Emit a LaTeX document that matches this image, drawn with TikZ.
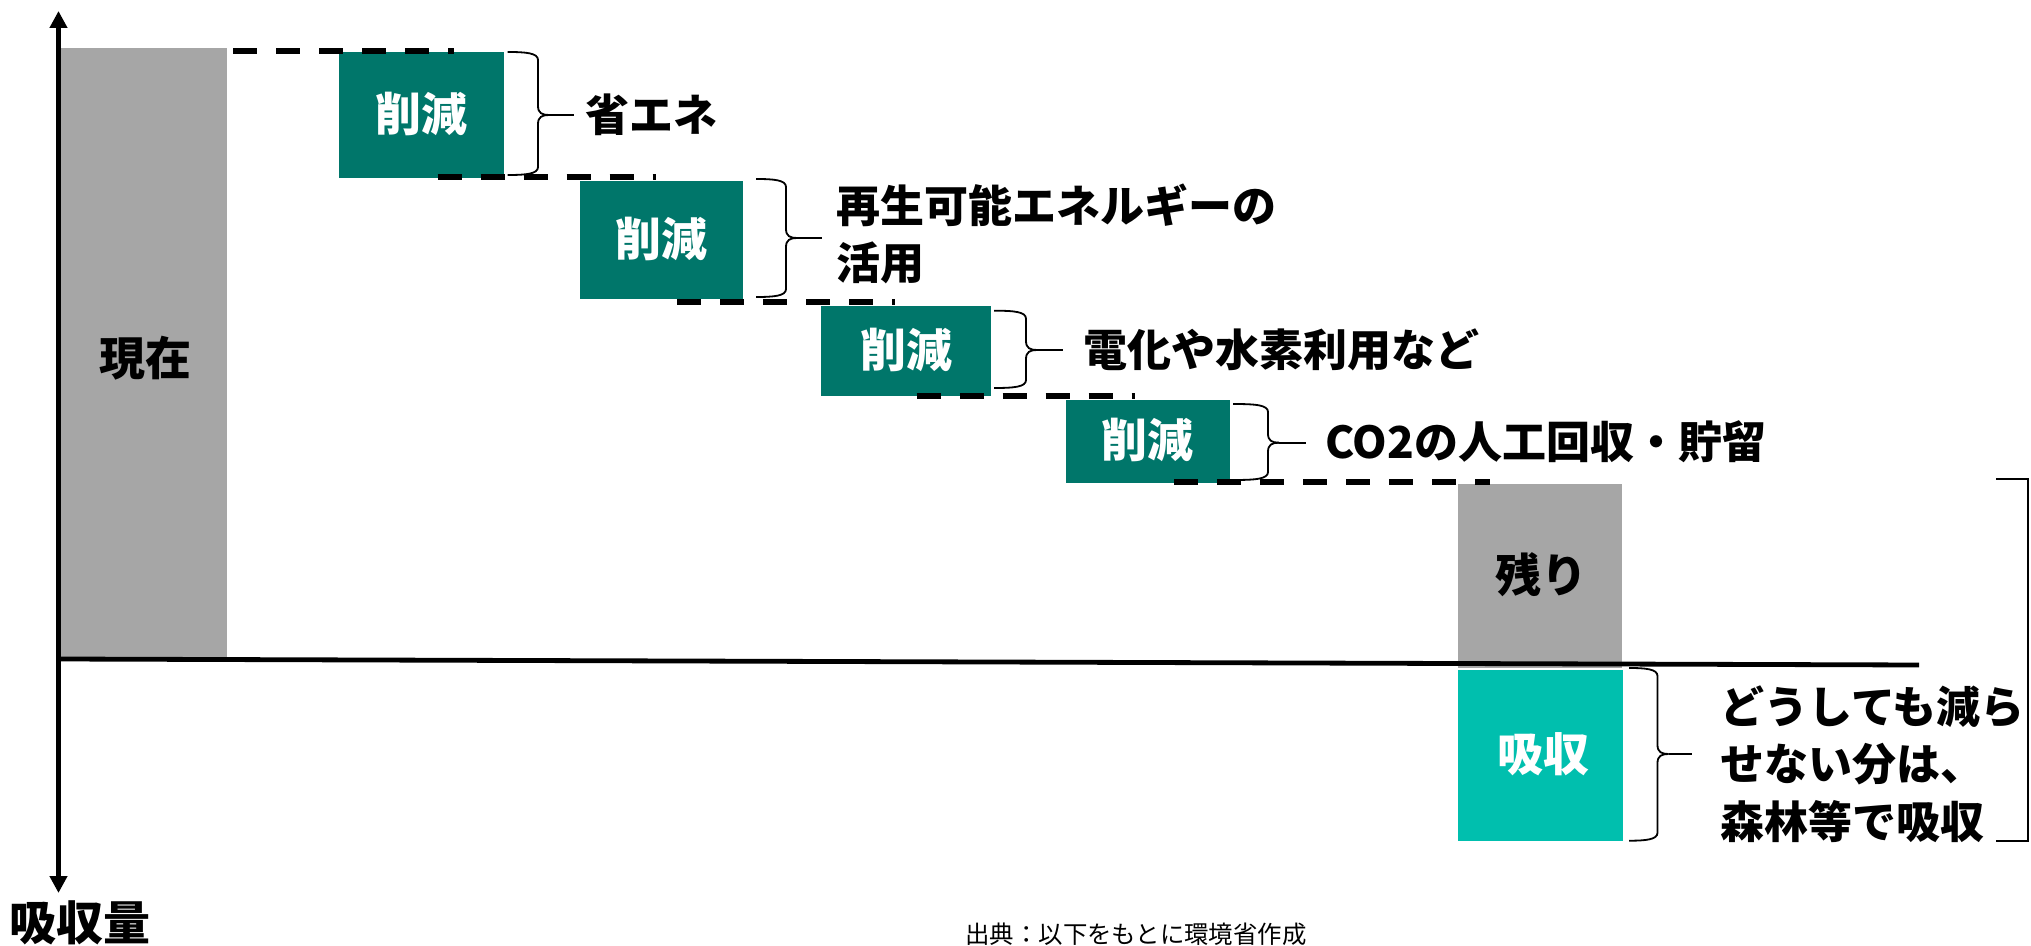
\documentclass[tikz,border=0pt]{standalone}
\usepackage{fontspec}
\setmainfont{Noto Sans CJK JP}
\usetikzlibrary{arrows.meta,fit,calc}
\definecolor{gbar}{RGB}{166,166,166}
\definecolor{dgreen}{RGB}{0,118,106}
\definecolor{lteal}{RGB}{0,191,174}
\newcommand{\bracedraw}[6]{% xl, xb, xt, top, bot, mid
  \draw[brc] (#1,#4) .. controls (#2-12,#4) and (#2,#4+1) .. (#2,#4+8) -- (#2,#6-9) .. controls (#2,#6-2) and (#2+4,#6) .. (#2+11,#6);
  \draw[brc] (#1,#5) .. controls (#2-12,#5) and (#2,#5-1) .. (#2,#5-8) -- (#2,#6+9) .. controls (#2,#6+2) and (#2+4,#6) .. (#2+11,#6);
}
\begin{document}
\begin{tikzpicture}[x=0.5pt,y=-0.5pt,
  boxs/.style={inner sep=0pt, outer sep=0pt, draw=none},
  gbox/.style={boxs, fill=dgreen},
  nbox/.style={boxs, fill=gbar},
  tbox/.style={boxs, fill=lteal},
  btxt/.style={inner sep=0pt, anchor=center, yshift=-4.5pt, text height=0.83em, text depth=0.07em, font=\bfseries\fontsize{23}{27}\selectfont},
  lbl/.style={inner sep=0pt, anchor=west, align=left, font=\bfseries\fontsize{22}{28.75}\selectfont},
  brc/.style={line width=0.9pt},
  dashln/.style={line width=2.8pt, dash pattern=on 12pt off 9.5pt},
  axisln/.style={line width=2.4pt},
  tipar/.style={-{Triangle[width=8.5pt,length=8.5pt]}},
]
\useasboundingbox (0,0) rectangle (2031,946);

% bars and boxes
\node[nbox, fit={(61,48) (227,657)}] (now) {};
\node[gbox, fit={(339,51.7) (503.6,177.7)}] (b1) {};
\node[gbox, fit={(579.7,181) (743,299)}] (b2) {};
\node[gbox, fit={(821,306) (991,395.7)}] (b3) {};
\node[gbox, fit={(1065.7,400) (1230,482.7)}] (b4) {};
\node[nbox, fit={(1458,484) (1622,668)}] (rest) {};
\node[tbox, fit={(1458,670) (1622.5,840.7)}] (abs) {};

\node[btxt] (nowt) at (145,359) {現在};
\node[btxt, text=white] (b1t) at (b1) {削減};
\node[btxt, text=white] (b2t) at (b2) {削減};
\node[btxt, text=white] (b3t) at (b3) {削減};
\node[btxt, text=white] (b4t) at (b4) {削減};
\node[btxt] (restt) at (1541,576) {残り};

% axes
\coordinate (ytop) at (58.5,11);
\coordinate (ybot) at (58.5,893);
\coordinate (yorg) at (58.5,420);
\draw[axisln, tipar] (yorg) -- (ytop);
\draw[axisln, tipar] (yorg) -- (ybot);
\coordinate (x0) at (58.5,659);
\coordinate (x1) at (1919,665);
\draw[axisln] (x0) -- (x1);
\node[btxt, font=\bfseries\fontsize{23.5}{27}\selectfont] (ylab) at (80,924) {吸収量};
\node[btxt, text=white] (abst) at (1543,755) {吸収};

% dashed level lines
\coordinate (d1a) at (233,51);    \coordinate (d1b) at (454,51);
\coordinate (d2a) at (437.5,177); \coordinate (d2b) at (656,177);
\coordinate (d3a) at (677,302);   \coordinate (d3b) at (895,302);
\coordinate (d4a) at (916.6,396); \coordinate (d4b) at (1135,396);
\coordinate (d5a) at (1174,482);  \coordinate (d5b) at (1490,482);
\draw[dashln] (d1a) -- (d1b);
\draw[dashln] (d2a) -- (d2b);
\draw[dashln] (d3a) -- (d3b);
\draw[dashln] (d4a) -- (d4b);
\draw[dashln] (d5a) -- (d5b);

% braces
\bracedraw{507.6}{538}{574}{52}{175}{115}
\bracedraw{756}{786}{822}{179}{297}{238}
\bracedraw{994}{1026}{1063}{310.7}{388}{350}
\bracedraw{1233}{1268}{1305.7}{404}{480}{442.7}
\bracedraw{1629}{1657.5}{1691.7}{668}{840.7}{754}

\coordinate (k1) at (549,115);    \coordinate (t1) at (574,115);
\coordinate (k2) at (797,238);    \coordinate (t2) at (822,238);
\coordinate (k3) at (1037,350);   \coordinate (t3) at (1063,350);
\coordinate (k4) at (1279,442.7); \coordinate (t4) at (1305.7,442.7);
\coordinate (k5) at (1668.5,754); \coordinate (t5) at (1691.7,754);
\draw[brc] (k1) -- (t1);
\draw[brc] (k2) -- (t2);
\draw[brc] (k3) -- (t3);
\draw[brc] (k4) -- (t4);
\draw[brc] (k5) -- (t5);

% labels
\node[lbl] (l1) at (585.5,115) {省エネ};
\node[lbl] (l2) at (836,234) {再生可能エネルギーの\\活用};
\node[lbl] (l3) at (1083,350) {電化や水素利用など};
\node[lbl] (l4) at (1325,441.7) {CO2の人工回収・貯留};
\node[lbl] (l5) at (1720,764) {どうしても減ら\\せない分は、\\森林等で吸収};

% big right bracket
\coordinate (r1) at (1996,479);
\coordinate (r2) at (2028,479);
\coordinate (r3) at (2028,840.7);
\coordinate (r4) at (1996,840.7);
\draw[brc] (r1) -- (r2) -- (r3) -- (r4);

% source
\node[font=\fontsize{12.2}{14}\selectfont, inner sep=0pt] (src) at (1136,934) {出典：以下をもとに環境省作成};
\end{tikzpicture}
\end{document}
